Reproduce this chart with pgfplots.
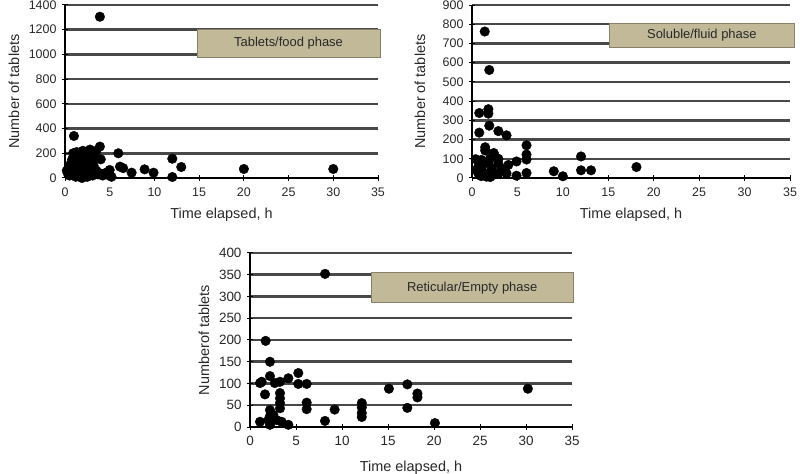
\documentclass[border=0pt]{standalone}
\usepackage{pgfplots}
\pgfplotsset{compat=1.18}
\usepackage{fontspec}
\setmainfont{Liberation Sans}
\definecolor{boxtan}{RGB}{193,185,152}
\definecolor{gridc}{RGB}{72,72,72}
\definecolor{txt}{RGB}{40,40,40}
\newcommand{\lab}{\fontsize{14.5}{16}\selectfont\color{txt}}
\pgfplotsset{
  panel/.style={
    scale only axis,
    axis x line=bottom, axis y line=left,
    axis line style={black, line width=1.5bp, -},
    xmin=0, xmax=35, xtick={0,5,...,35},
    ymin=0,
    ymajorgrids,
    grid style={gridc, line width=2.5bp},
    tick align=center,
    major tick length=6bp,
    tick style={black, line width=1bp},
    tick label style={font=\fontsize{12.5}{14}\selectfont, text=txt},
    /pgf/number format/assume math mode=true,
    /pgf/number format/set thousands separator={},
    xticklabel style={yshift=-3bp},
    yticklabel style={xshift=-2bp},
    clip=false,
  },
  dots/.style={only marks, mark=*, mark size=4.8bp, mark options={fill=black, draw=black}},
}
\begin{document}
\begin{tikzpicture}
\useasboundingbox (0bp,0bp) rectangle (800bp,474bp);
% Panel 1
\begin{axis}[panel, at={(65bp,296bp)}, anchor=south west, width=313bp, height=173bp,
  ymax=1400, ytick={0,200,...,1400},
  xlabel={\lab Time elapsed, h}, ylabel={\lab Number of tablets},
  every axis x label/.style={at={([yshift=-37bp]axis description cs:0.5,0)}, anchor=center},
  every axis y label/.style={at={([xshift=-51bp]axis description cs:0,0.5)}, rotate=90, anchor=center}]
\fill[boxtan, draw=boxtan!70!black, line width=0.4bp] (axis cs:14.8,980) rectangle (axis cs:35.2,1205);
\node[font=\fontsize{13}{15}\selectfont, text=txt] at (axis cs:25,1092) {Tablets/food phase};
\addplot[dots] coordinates {
(0.2,60)(0.3,40)(0.4,80)(0.5,20)(0.6,110)(0.7,60)(0.8,150)(0.8,30)(0.9,200)(1,340)
(1,100)(1,180)(1.1,50)(1.2,130)(1.2,10)(1.3,210)(1.4,80)(1.5,160)(1.5,40)(1.6,120)
(1.7,190)(1.8,60)(1.9,0)(2,100)(2,150)(2,220)(2.1,30)(2.2,180)(2.3,70)(2.4,120)
(2.5,200)(2.5,10)(2.6,160)(2.7,90)(2.8,230)(2.9,50)(3,130)(3,190)(3.1,20)(3.2,100)
(3.3,160)(3.5,60)(3.5,220)(3.7,30)(3.9,254)(4,151)(3.9,38)(4.2,20)(4.5,40)(4.8,25)
(5,65)(5,30)(5.2,10)(5.96,200)(6.15,92)(6.5,80)(7.45,43)(8.9,70)(9.9,43)(12,156)
(12,8)(13,89)(20,73)(30,73)(3.9,1305)
};
\end{axis}
% Panel 2
\begin{axis}[panel, at={(472bp,296bp)}, anchor=south west, width=318bp, height=173bp,
  ymax=900, ytick={0,100,...,900},
  xlabel={\lab Time elapsed, h}, ylabel={\lab Number of tablets},
  every axis x label/.style={at={([yshift=-37bp]axis description cs:0.5,0)}, anchor=center},
  every axis y label/.style={at={([xshift=-52bp]axis description cs:0,0.5)}, rotate=90, anchor=center}]
\fill[boxtan, draw=boxtan!70!black, line width=0.4bp] (axis cs:15.1,681) rectangle (axis cs:35.5,806);
\node[font=\fontsize{13}{15}\selectfont, text=txt] at (axis cs:25.3,743) {Soluble/fluid phase};
\addplot[dots] coordinates {
(1.4,762)(1.9,562)(1.8,358)(1.8,335)(0.8,338)(0.8,236)(1.9,272)(2.9,244)(3.8,222)(1.45,160)
(1.45,143)(2.4,130)(2.9,100)(0.4,98)(1.05,94)(2.0,102)(6,170)(6,122)(6,96)(4.9,86)
(4,68)(2.9,76)(0.7,59)(0.7,24)(1.43,24)(2.16,50)(1.6,7)(2.9,24)(3.8,24)(4.9,12)
(6,26)(2.35,16)(1.06,42)(3.26,50)(1.2,70)(0.5,40)(1.8,80)(12,112)(12,40)(13.1,40)
(9,35)(10,9)(18.1,57)(1.0,10)(2.0,5)
};
\end{axis}
% Panel 3
\begin{axis}[panel, at={(250bp,47bp)}, anchor=south west, width=322bp, height=174bp,
  ymax=400, ytick={0,50,...,400},
  tick label style={font=\fontsize{13.5}{15}\selectfont, text=txt},
  xlabel={\lab Time elapsed, h}, ylabel={\lab Numberof tablets},
  every axis x label/.style={at={([yshift=-41bp]axis description cs:0.5,0)}, anchor=center},
  every axis y label/.style={at={([xshift=-46bp]axis description cs:0,0.5)}, rotate=90, anchor=center}]
\fill[boxtan, draw=boxtan!70!black, line width=0.4bp] (axis cs:13.2,286) rectangle (axis cs:35.1,355);
\node[font=\fontsize{13}{15}\selectfont, text=txt] at (axis cs:24.15,320) {Reticular/Empty phase};
\addplot[dots] coordinates {
(8.16,352)(1.7,198)(2.17,150)(2.17,117)(1.27,104)(1.09,101)(2.7,101)(3.26,104)(4.17,112)(5.25,124)
(5.25,99)(6.16,99)(1.63,75)(3.26,78)(3.26,66)(3.26,55)(3.26,43)(2.17,39)(2.17,25)(6.16,56)
(6.16,41)(1.09,12)(2.0,16)(2.17,5)(2.9,16)(3.44,12)(4.17,5)(8.15,14)(2.54,28)(9.2,40)
(12.15,55)(12.15,45)(12.15,32)(12.15,23)(15.1,88)(17.1,98)(17.1,44)(18.2,77)(18.2,68)(20.1,9)
(30.2,88)
};
\end{axis}
\end{tikzpicture}
\end{document}
